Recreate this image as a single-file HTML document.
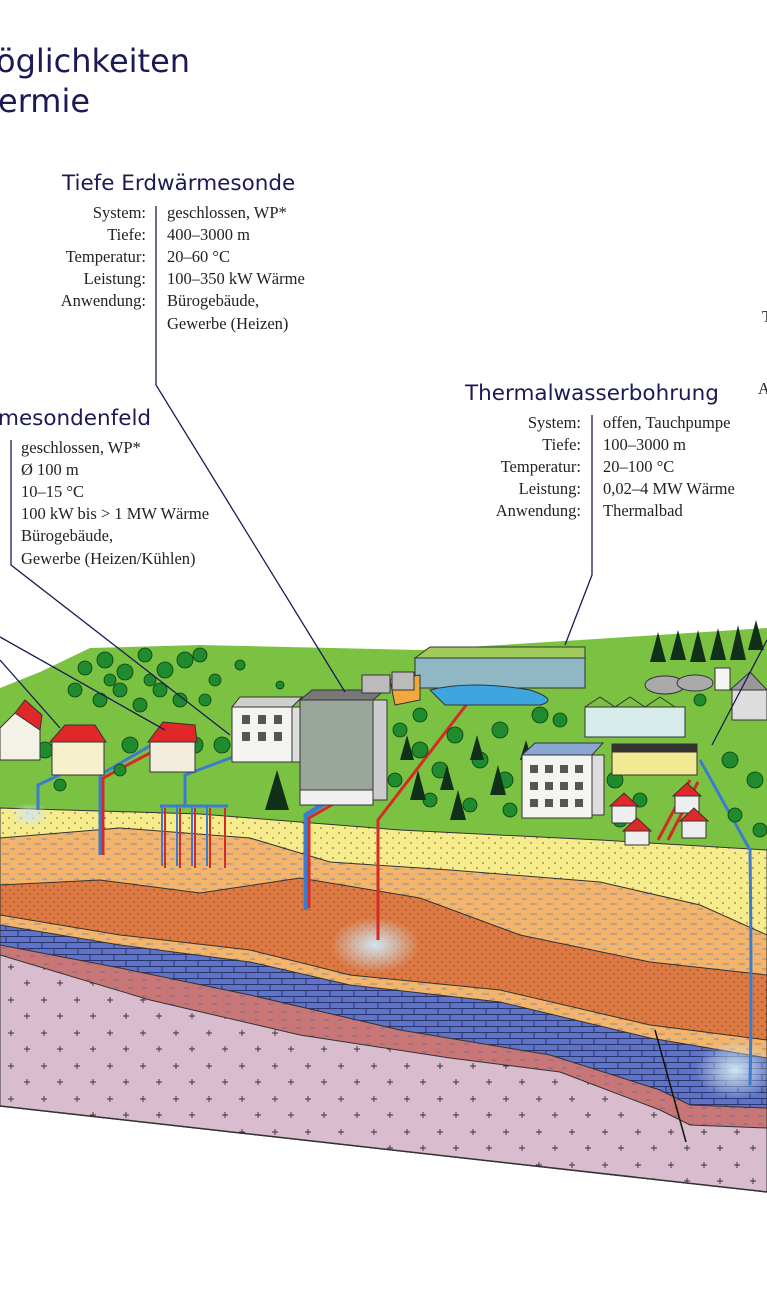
<!DOCTYPE html>
<html><head><meta charset="utf-8"><style>
html,body{margin:0;padding:0;background:#fff;}
svg{display:block}
.h{font-family:"DejaVu Sans","Liberation Sans",sans-serif;fill:#1c1a55;}
.t{font-family:"Liberation Serif",serif;font-size:16.5px;fill:#222;}
</style></head><body>
<svg width="767" height="1300" viewBox="0 0 767 1300" xmlns="http://www.w3.org/2000/svg">
<defs>
<pattern id="dots" width="12" height="10" patternUnits="userSpaceOnUse"><rect width="12" height="10" fill="#f6ec8c"/><circle cx="3" cy="3" r="0.9" fill="#8a7a40"/><circle cx="9" cy="8" r="0.9" fill="#8a7a40"/></pattern>
<pattern id="dash" width="16" height="10" patternUnits="userSpaceOnUse"><rect width="16" height="10" fill="#f4b56a"/><path d="M2 4h7M10 9h5" stroke="#8a8a9a" stroke-width="1"/></pattern>
<pattern id="rdots" width="8" height="8" patternUnits="userSpaceOnUse"><rect width="8" height="8" fill="#db7a43"/><circle cx="2" cy="2" r="0.8" fill="#a53a20"/><circle cx="6" cy="6" r="0.8" fill="#a53a20"/></pattern>
<pattern id="brick" width="24" height="12" patternUnits="userSpaceOnUse"><rect width="24" height="12" fill="#5d74c9"/><path d="M0 0.5h24M0 6.5h24M6 0v6M18 6v6" stroke="#2c3470" stroke-width="1"/></pattern>
<pattern id="pink" width="14" height="8" patternUnits="userSpaceOnUse"><rect width="14" height="8" fill="#c97676"/><path d="M2 4h5" stroke="#7a6a8a" stroke-width="1"/></pattern>
<pattern id="plus" width="33" height="33" patternUnits="userSpaceOnUse"><rect width="33" height="33" fill="#d9bccd"/><path d="M8 10h6M11 7v6M24 26h6M27 23v6" stroke="#333" stroke-width="0.9"/></pattern>
<radialGradient id="glow"><stop offset="0" stop-color="#cfe6f2"/><stop offset="1" stop-color="#cfe6f2" stop-opacity="0"/></radialGradient>
</defs>

<text class="h" x="-4" y="72" font-size="32">öglichkeiten</text>
<text class="h" x="-2" y="112" font-size="32">ermie</text>

<text class="h" x="62" y="190" font-size="21.5">Tiefe Erdwärmesonde</text>
<g class="t">
<text x="146" y="218" text-anchor="end">System:</text><text x="167" y="218">geschlossen, WP*</text>
<text x="146" y="240" text-anchor="end">Tiefe:</text><text x="167" y="240">400–3000 m</text>
<text x="146" y="262" text-anchor="end">Temperatur:</text><text x="167" y="262">20–60 °C</text>
<text x="146" y="284" text-anchor="end">Leistung:</text><text x="167" y="284">100–350 kW Wärme</text>
<text x="146" y="306" text-anchor="end">Anwendung:</text><text x="167" y="306">Bürogebäude,</text>
<text x="167" y="329">Gewerbe (Heizen)</text>
</g>

<text class="h" x="-2" y="425" font-size="21.5">mesondenfeld</text>
<g class="t">
<text x="21" y="453">geschlossen, WP*</text>
<text x="21" y="475">Ø 100 m</text>
<text x="21" y="497">10–15 °C</text>
<text x="21" y="519">100 kW bis &gt; 1 MW Wärme</text>
<text x="21" y="541">Bürogebäude,</text>
<text x="21" y="564">Gewerbe (Heizen/Kühlen)</text>
</g>

<text class="h" x="465" y="400" font-size="21.5">Thermalwasserbohrung</text>
<g class="t">
<text x="581" y="428" text-anchor="end">System:</text><text x="603" y="428">offen, Tauchpumpe</text>
<text x="581" y="450" text-anchor="end">Tiefe:</text><text x="603" y="450">100–3000 m</text>
<text x="581" y="472" text-anchor="end">Temperatur:</text><text x="603" y="472">20–100 °C</text>
<text x="581" y="494" text-anchor="end">Leistung:</text><text x="603" y="494">0,02–4 MW Wärme</text>
<text x="581" y="516" text-anchor="end">Anwendung:</text><text x="603" y="516">Thermalbad</text>
<text x="762" y="322">T</text>
<text x="758" y="394">A</text>
</g>

<path d="M0 688 L40 672 L90 648 L200 645 L420 650 L580 640 L767 628 L767 1192 L0 1106Z" fill="#7cc242"/>
<path d="M0 808 L200 814 L400 830 L600 840 L767 850 L767 1192 L0 1106Z" fill="url(#dots)" stroke="#333" stroke-width="1"/>
<path d="M0 838 L120 828 L250 838 L330 862 L450 870 L600 882 L700 905 L767 935 L767 1192 L0 1106Z" fill="url(#dash)" stroke="#333" stroke-width="1"/>
<path d="M0 885 L100 880 L200 893 L300 878 L420 898 L520 935 L650 962 L767 975 L767 1192 L0 1106Z" fill="url(#rdots)" stroke="#333" stroke-width="1"/>
<path d="M0 915 L120 935 L250 950 L350 975 L500 990 L650 1025 L767 1040 L767 1192 L0 1106Z" fill="url(#dash)" stroke="#333" stroke-width="1"/>
<path d="M0 925 L120 945 L250 962 L350 985 L500 1002 L650 1038 L767 1058 L767 1192 L0 1106Z" fill="url(#brick)" stroke="#333" stroke-width="1"/>
<path d="M0 945 L120 968 L250 995 L400 1030 L550 1055 L660 1090 L690 1105 L767 1108 L767 1192 L0 1106Z" fill="url(#pink)" stroke="#333" stroke-width="1"/>
<path d="M0 955 L150 1000 L300 1035 L450 1058 L560 1072 L660 1110 L690 1125 L767 1128 L767 1192 L0 1106Z" fill="url(#plus)" stroke="#333" stroke-width="1"/>
<path d="M0 1106 L767 1192" stroke="#333" stroke-width="1.5"/>
<path d="M655 1030 L686 1142" stroke="#111" stroke-width="1.5"/>
<ellipse cx="375" cy="945" rx="45" ry="28" fill="url(#glow)"/>
<ellipse cx="30" cy="815" rx="20" ry="12" fill="url(#glow)"/>
<ellipse cx="735" cy="1070" rx="40" ry="30" fill="url(#glow)"/>

<g stroke-width="3" fill="none">
<path d="M100 855 V775 L160 740" stroke="#3c7ccf"/><path d="M103 855 V778 L165 745" stroke="#d42a2a"/>
<path d="M165 868 V808 M180 868 V808 M195 868 V808 M210 868 V808 M225 868 V808" stroke="#d42a2a" stroke-width="2"/>
<path d="M162 866 V806 M177 866 V806 M192 866 V806 M207 866 V806" stroke="#3c7ccf" stroke-width="2"/>
<path d="M160 806 H228 M185 806 V775 L265 745" stroke="#3c7ccf"/>
<path d="M306 910 V815 L330 800" stroke="#3c7ccf" stroke-width="5"/><path d="M309 908 V818 L335 803" stroke="#d42a2a"/>
<path d="M378 940 V820 L470 700" stroke="#d42a2a"/>
<path d="M750 1085 Q752 1000 750 850 L700 760" stroke="#3c7ccf"/>
<path d="M658 840 L690 780 M668 840 L698 782" stroke="#d42a2a"/>
<path d="M38 810 V785 L70 770" stroke="#3c7ccf"/>
</g>

<g fill="#1f8a2e" stroke="#0d3d12" stroke-width="0.8">
<circle cx="85" cy="668" r="7"/><circle cx="105" cy="660" r="8"/><circle cx="125" cy="672" r="8"/><circle cx="145" cy="655" r="7"/><circle cx="165" cy="670" r="8"/><circle cx="185" cy="660" r="8"/><circle cx="200" cy="655" r="7"/><circle cx="215" cy="680" r="6"/><circle cx="120" cy="690" r="7"/><circle cx="160" cy="690" r="7"/><circle cx="75" cy="690" r="7"/><circle cx="240" cy="665" r="5"/><circle cx="280" cy="685" r="4"/>
<circle cx="100" cy="700" r="7"/><circle cx="140" cy="705" r="7"/><circle cx="180" cy="700" r="7"/><circle cx="205" cy="700" r="6"/><circle cx="110" cy="680" r="6"/><circle cx="150" cy="680" r="6"/>
<circle cx="130" cy="745" r="8"/><circle cx="195" cy="745" r="8"/><circle cx="222" cy="745" r="8"/><circle cx="45" cy="750" r="8"/><circle cx="120" cy="770" r="6"/><circle cx="60" cy="785" r="6"/>
<circle cx="420" cy="750" r="8"/><circle cx="440" cy="770" r="8"/><circle cx="455" cy="735" r="8"/><circle cx="480" cy="760" r="8"/><circle cx="500" cy="730" r="8"/><circle cx="505" cy="780" r="8"/><circle cx="430" cy="800" r="7"/><circle cx="470" cy="805" r="7"/><circle cx="510" cy="810" r="7"/><circle cx="395" cy="780" r="7"/><circle cx="540" cy="715" r="8"/><circle cx="560" cy="720" r="7"/><circle cx="400" cy="730" r="7"/><circle cx="420" cy="715" r="7"/>
<circle cx="615" cy="780" r="8"/><circle cx="640" cy="800" r="7"/><circle cx="620" cy="820" r="7"/><circle cx="730" cy="760" r="8"/><circle cx="755" cy="780" r="8"/><circle cx="735" cy="815" r="7"/><circle cx="760" cy="830" r="7"/><circle cx="700" cy="700" r="6"/>
</g>
<g fill="#10301a">
<path d="M265 810 l12 -40 l12 40z"/><path d="M410 800 l8 -30 l8 30z"/><path d="M450 820 l8 -30 l8 30z"/><path d="M490 795 l8 -30 l8 30z"/><path d="M470 760 l7 -25 l7 25z"/><path d="M520 760 l6 -20 l6 20z"/><path d="M400 760 l7 -25 l7 25z"/><path d="M440 790 l7 -25 l7 25z"/>
<path d="M650 662 l8 -30 l8 30z"/><path d="M670 660 l8 -30 l8 30z"/><path d="M690 662 l8 -32 l8 32z"/><path d="M710 660 l8 -32 l8 32z"/><path d="M730 660 l8 -35 l8 35z"/><path d="M748 650 l8 -30 l8 30z"/>
</g>

<g stroke="#333" stroke-width="1">
<path d="M0 728 L15 713 L40 713 L40 760 L0 760Z" fill="#f4f1e6"/><path d="M15 713 L25 700 L42 715 L40 730Z" fill="#e12828"/>
<rect x="52" y="740" width="52" height="35" fill="#f6f0cc"/><path d="M50 742 L65 725 L95 725 L106 742Z" fill="#e12828"/>
<rect x="150" y="740" width="45" height="32" fill="#f3eedb"/><path d="M148 742 L163 722 L195 725 L197 742Z" fill="#e12828"/>
<rect x="232" y="707" width="60" height="55" fill="#f4f4f0"/><path d="M232 707 L240 697 L302 697 L292 707Z" fill="#cfcfcf"/><rect x="292" y="707" width="9" height="55" fill="#ddd"/>
<rect x="300" y="700" width="73" height="105" fill="#9aa69c"/><path d="M300 700 L312 690 L385 690 L373 700Z" fill="#777"/><rect x="373" y="700" width="14" height="100" fill="#ccc"/><rect x="300" y="790" width="73" height="15" fill="#f0f0f0"/>
<rect x="522" y="755" width="70" height="63" fill="#f4f4f0"/><path d="M522 755 L535 743 L603 743 L592 755Z" fill="#8aa7d4"/><rect x="592" y="755" width="12" height="60" fill="#ddd"/>
<rect x="415" y="658" width="170" height="30" fill="#8fb8c4"/><path d="M415 658 L430 647 L585 647 L585 658Z" fill="#9ecb5a"/>
<path d="M430 690 Q470 680 530 690 Q560 700 540 705 L445 705Z" fill="#3ea6df"/>
<path d="M390 680 L420 675 L420 700 L395 705Z" fill="#f2a93c"/>
<rect x="362" y="675" width="28" height="18" fill="#bbb"/><rect x="392" y="672" width="22" height="18" fill="#bbb"/>
<rect x="585" y="707" width="100" height="30" fill="#d6ecea"/><path d="M585 707 L600 697 L615 707 L630 697 L645 707 L660 697 L675 707" fill="none"/>
<rect x="612" y="750" width="85" height="25" fill="#f2ea92"/><rect x="612" y="744" width="85" height="8" fill="#333"/>
<ellipse cx="665" cy="685" rx="20" ry="9" fill="#aaa"/><ellipse cx="695" cy="683" rx="18" ry="8" fill="#aaa"/>
<rect x="732" y="690" width="35" height="30" fill="#ddd"/><path d="M730 690 L750 672 L767 690Z" fill="#999"/>
<rect x="715" y="668" width="15" height="22" fill="#f4f4f0"/>
<rect x="612" y="805" width="24" height="18" fill="#eee"/><path d="M610 806 L624 793 L638 806Z" fill="#e12828"/>
<rect x="675" y="795" width="24" height="18" fill="#eee"/><path d="M673 796 L687 783 L701 796Z" fill="#e12828"/>
<rect x="682" y="820" width="24" height="18" fill="#eee"/><path d="M680 821 L694 808 L708 821Z" fill="#e12828"/>
<rect x="625" y="830" width="24" height="15" fill="#eee"/><path d="M623 831 L637 818 L651 831Z" fill="#e12828"/>
</g>
<g fill="#555">
<rect x="242" y="715" width="8" height="9"/><rect x="258" y="715" width="8" height="9"/><rect x="274" y="715" width="8" height="9"/>
<rect x="242" y="732" width="8" height="9"/><rect x="258" y="732" width="8" height="9"/><rect x="274" y="732" width="8" height="9"/>
<rect x="530" y="765" width="8" height="8"/><rect x="545" y="765" width="8" height="8"/><rect x="560" y="765" width="8" height="8"/><rect x="575" y="765" width="8" height="8"/>
<rect x="530" y="782" width="8" height="8"/><rect x="545" y="782" width="8" height="8"/><rect x="560" y="782" width="8" height="8"/><rect x="575" y="782" width="8" height="8"/>
<rect x="530" y="799" width="8" height="8"/><rect x="545" y="799" width="8" height="8"/><rect x="560" y="799" width="8" height="8"/><rect x="575" y="799" width="8" height="8"/>
</g>

<g stroke="#1c1a55" stroke-width="1.3" fill="none">
<path d="M156 206 V385 L345 692"/>
<path d="M11 440 V565 L230 735"/>
<path d="M0 637 L165 730"/>
<path d="M0 660 L60 728"/>
<path d="M592 415 V575 L565 645"/>
<path d="M767 640 L712 745"/>
</g>
</svg>
</body></html>
